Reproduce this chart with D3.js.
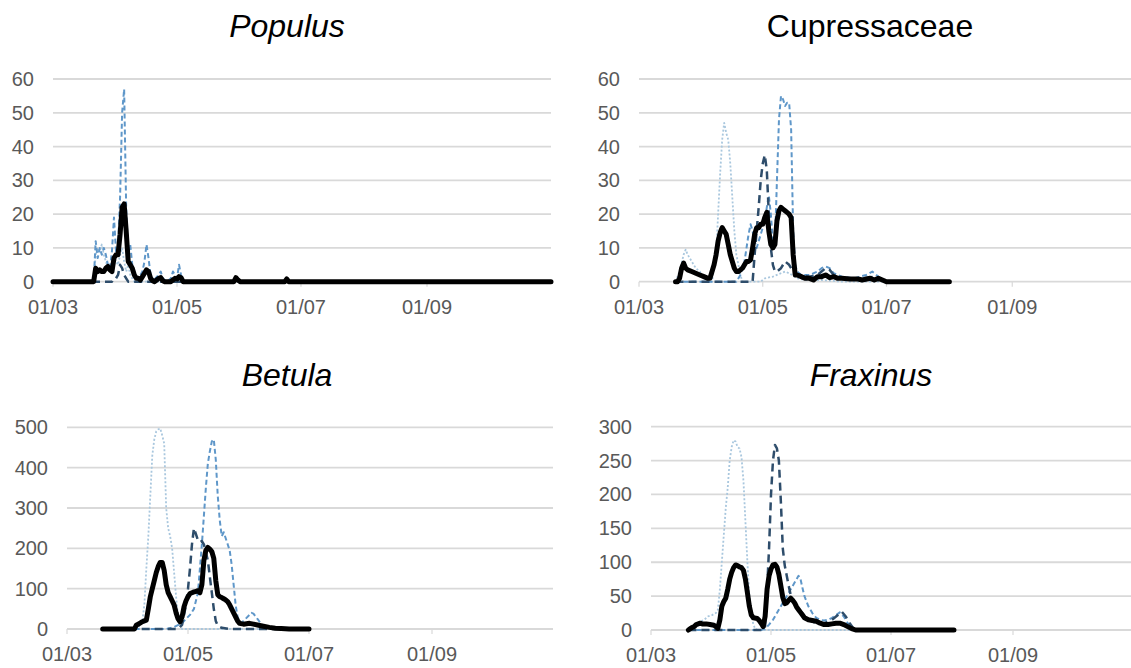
<!DOCTYPE html>
<html><head><meta charset="utf-8">
<script src="https://cdn.jsdelivr.net/npm/d3@7"></script>
<style>
html,body{margin:0;padding:0;background:#fff;}
svg{display:block;font-family:"Liberation Sans",Arial,sans-serif;}
</style></head>
<body>
<svg id="chart" width="1131" height="668"></svg>
<script>
// ---- DATA (day offset from 01/03, value) ----
const yearStart = new Date(2019, 2, 1);
const yearEnd = new Date(2019, 10, 1);
const xTickDates = [new Date(2019,2,1), new Date(2019,4,1), new Date(2019,6,1), new Date(2019,8,1)];

const populusTicks = [0,10,20,30,40,50,60];
const cupressTicks = [0,10,20,30,40,50,60];
const betulaTicks = [0,100,200,300,400,500];
const fraxinusTicks = [0,50,100,150,200,250,300];

const populusBlack = [[0,0],[20,0],[21,4],[22,3],[23,3.5],[24,3],[25,3],[26,4],[27,4.5],[28,3.5],[29,3],[30,7],[31,8],[32,8],[33,14],[34,22],[35,23],[36,15],[37,6],[38,5],[39,4],[40,2],[41,1],[42,1],[43,0.5],[44,1.5],[45,2.5],[46,3.5],[47,3],[48,1],[49,0.3],[50,0],[51,0.5],[52,1],[53,1.2],[54,0.3],[55,0],[58,0],[59,0.5],[60,1],[61,0.8],[62,1.5],[63,1.2],[64,0],[89,0],[90,1.2],[91,0.5],[92,0],[114,0],[115,0.8],[116,0],[245,0]];
const populusDark = [[0,0],[29,0],[30,1],[31,1],[32,2],[33,5],[34,4],[35,2],[36,1],[37,0],[245,0]];
const populusMid = [[0,0],[20,0],[21,12],[22,7],[23,10],[24,8],[25,10],[26,8],[27,5],[28,4],[29,9],[30,19],[31,9],[32,10],[33,25],[34,50],[35,57],[36,22],[37,8],[38,11],[39,5],[40,3],[41,1],[42,1],[43,2],[44,3],[45,6],[46,11],[47,7],[48,2],[49,0],[52,2],[53,3],[54,1],[56,0],[58,1],[59,3],[60,2],[61,1],[62,5],[63,2],[64,0],[245,0]];
const populusLight = [[0,0],[20,0],[21,8],[22,10],[23,9],[24,11],[25,8],[26,6],[27,4],[28,3],[29,5],[30,8],[31,6],[32,5],[33,8],[34,10],[35,6],[36,3],[37,5],[38,2],[39,1],[40,0],[245,0]];

const cupressBlack = [[18,0],[19,0],[20,1],[21,4],[22,5.5],[23,4],[24,3.5],[26,3],[28,2.5],[30,2],[32,1.5],[34,1],[35,1],[36,3],[37,5],[38,8],[39,12],[40,14.5],[41,16],[42,15],[43,14],[44,11],[45,8],[46,6],[47,4],[48,3],[49,3],[50,3.5],[51,4],[52,5],[53,6],[54,6],[55,6.5],[56,10],[57,14],[58,16],[59,16],[60,17],[61,17],[62,19],[63,20.5],[64,15],[65,11],[66,10],[67,11],[68,18],[69,21],[70,22],[71,21.5],[72,21],[73,20.5],[74,20],[75,19],[76,8],[77,2],[78,2],[80,1.5],[82,1],[84,1],[86,0.5],[88,1.5],[90,1.5],[92,2],[94,1.2],[96,1.5],[98,1],[100,1],[104,0.8],[108,0.8],[110,0.5],[114,1],[116,0.5],[118,1],[120,0.5],[122,0],[153,0]];
const cupressDark = [[18,0],[56,0],[57,8],[58,15],[59,22],[60,30],[61,35],[62,37.5],[63,33],[64,20],[65,10],[66,5],[67,3],[68,3],[70,4],[72,6],[74,5],[76,3],[78,2],[80,2],[84,1.5],[88,2],[90,3],[92,4],[94,3.5],[96,2],[100,1],[110,1],[116,1.5],[120,0.5],[122,0],[153,0]];
const cupressMid = [[18,0],[48,0],[50,2],[52,6],[54,14],[55,17],[56,15],[57,12],[58,10],[59,12],[60,14],[62,18],[63,22],[64,25.5],[65,20],[66,12],[67,11],[68,30],[69,48],[70,55],[71,54],[72,52],[73,53],[74,53],[75,45],[76,15],[77,5],[78,3],[80,2],[84,2],[88,3],[90,4],[92,4.5],[94,4],[96,2.5],[100,1.5],[106,1],[112,2],[115,3],[117,2],[120,0.5],[122,0],[153,0]];
const cupressLight = [[18,0],[20,3],[22,8],[23,9.5],[24,8],[26,6],[28,4],[30,3],[32,1],[34,0],[36,0],[38,8],[39,20],[40,32],[41,42],[42,47],[43,44],[44,42],[45,35],[46,25],[47,15],[48,8],[49,5],[50,2],[51,0],[60,0],[62,1],[66,1.5],[70,2.5],[72,3],[74,2.5],[78,1],[82,0.5],[90,0.5],[100,0],[153,0]];

const betulaBlack = [[18,0],[34,0],[35,10],[36,12],[37,15],[38,18],[39,20],[40,22],[41,50],[42,80],[43,100],[44,120],[45,140],[46,155],[47,165],[48,165],[49,145],[50,110],[51,90],[52,80],[53,70],[54,60],[55,40],[56,25],[57,18],[58,30],[59,55],[60,70],[61,80],[62,88],[63,90],[64,92],[65,93],[66,95],[67,90],[68,110],[69,170],[70,195],[71,202],[72,198],[73,192],[74,175],[75,120],[76,85],[77,80],[78,78],[79,75],[80,72],[81,68],[82,60],[83,50],[84,40],[85,30],[86,20],[87,14],[89,12],[92,14],[94,12],[96,10],[99,7],[102,4],[105,2],[108,1],[112,0],[122,0]];
const betulaDark = [[18,0],[56,0],[58,10],[60,60],[61,100],[62,150],[63,210],[64,250],[65,235],[66,220],[67,215],[68,218],[69,210],[70,190],[71,170],[72,130],[73,90],[74,50],[75,20],[76,8],[78,3],[82,0],[122,0]];
const betulaMid = [[18,0],[50,0],[54,5],[58,15],[60,25],[62,35],[64,50],[66,90],[67,150],[68,210],[69,280],[70,350],[71,410],[72,440],[73,465],[74,470],[75,420],[76,330],[77,270],[78,230],[79,240],[80,225],[81,210],[82,195],[83,160],[84,110],[85,60],[86,30],[87,18],[88,15],[90,25],[92,35],[93,40],[94,38],[96,25],[98,12],[100,5],[104,0],[122,0]];
const betulaLight = [[18,0],[34,0],[36,5],[38,20],[39,60],[40,150],[41,230],[42,330],[43,430],[44,470],[45,490],[46,495],[47,497],[48,480],[49,460],[50,300],[51,250],[52,230],[53,200],[54,140],[55,80],[56,30],[57,10],[58,0],[122,0]];

const fraxinusBlack = [[19,0],[20,2],[21,4],[22,5],[23,8],[24,9],[25,10],[26,9],[28,9],[30,8],[32,7],[33,5],[34,2.5],[35,15],[36,35],[37,42],[38,47],[39,60],[40,75],[41,85],[42,92],[43,96],[44,95],[45,93],[46,92],[47,88],[48,75],[49,55],[50,35],[51,22],[52,18],[54,17],[55,14],[56,10],[57,5],[58,20],[59,60],[60,80],[61,90],[62,96],[63,97],[64,93],[65,82],[66,65],[67,48],[68,39],[69,40],[70,44],[71,47],[72,44],[73,40],[74,34],[75,30],[76,26],[77,22],[78,18],[80,15],[82,14],[84,13],[86,10],[88,8],[90,8],[92,9],[94,10],[96,10],[98,8],[100,5],[102,2],[104,0],[154,0]];
const fraxinusDark = [[19,0],[57,0],[58,5],[59,60],[60,120],[61,200],[62,250],[63,273],[64,268],[65,250],[66,190],[67,120],[68,95],[69,80],[70,65],[71,52],[72,44],[74,35],[76,28],[78,20],[80,15],[84,10],[88,10],[92,15],[95,22],[97,27],[99,20],[101,10],[103,2],[104,0],[154,0]];
const fraxinusMid = [[19,0],[56,0],[58,2],[60,8],[62,15],[64,25],[66,35],[68,45],[70,55],[72,65],[74,75],[75,80],[76,75],[77,62],[78,50],[80,35],[82,25],[84,18],[86,15],[88,14],[90,15],[92,18],[94,22],[96,26],[98,20],[100,10],[102,3],[104,0],[154,0]];
const fraxinusLight = [[19,0],[21,3],[23,10],[25,12],[27,15],[29,20],[31,22],[33,25],[34,30],[35,60],[36,100],[37,140],[38,180],[39,210],[40,250],[41,270],[42,280],[43,278],[44,270],[45,268],[46,255],[47,220],[48,160],[49,100],[50,50],[51,25],[52,8],[53,2],[54,0],[154,0]];

// ---- STYLES ----
const styles = {
  light: {color:"#a9c7de", width:1.8, dash:"2,2"},
  mid:   {color:"#5f97c9", width:2.0, dash:"5,3"},
  dark:  {color:"#2e4d6b", width:2.5, dash:"8,5"},
  black: {color:"#000000", width:5, dash:null}
};

const panels = [
  {title:"Populus", italic:true, titleX:287, titleY:37, left:53, right:551, y0:281.7, yTop:79, ticks:populusTicks,
   series:{light:populusLight, mid:populusMid, dark:populusDark, black:populusBlack}},
  {title:"Cupressaceae", italic:false, titleX:870, titleY:37, left:639, right:1136, y0:281.7, yTop:79, ticks:cupressTicks,
   series:{light:cupressLight, mid:cupressMid, dark:cupressDark, black:cupressBlack}},
  {title:"Betula", italic:true, titleX:287, titleY:386, left:67, right:553, y0:629, yTop:427.3, ticks:betulaTicks,
   series:{light:betulaLight, mid:betulaMid, dark:betulaDark, black:betulaBlack}},
  {title:"Fraxinus", italic:true, titleX:871, titleY:386, left:651, right:1133, y0:630, yTop:426.7, ticks:fraxinusTicks,
   series:{light:fraxinusLight, mid:fraxinusMid, dark:fraxinusDark, black:fraxinusBlack}}
];

const svg = d3.select("#chart");
const fmt = d3.timeFormat("%d/%m");

panels.forEach(p => {
  const g = svg.append("g");
  const x = d3.scaleTime().domain([yearStart, yearEnd]).range([p.left, p.right]);
  const ymax = p.ticks[p.ticks.length-1];
  const y = d3.scaleLinear().domain([0, ymax]).range([p.y0, p.yTop]);

  // gridlines
  g.selectAll("line.grid").data(p.ticks).join("line")
    .attr("x1", p.left).attr("x2", p.right)
    .attr("y1", d => y(d)).attr("y2", d => y(d))
    .attr("stroke", "#d9d9d9").attr("stroke-width", 1.8);

  // y labels
  g.selectAll("text.ylab").data(p.ticks).join("text")
    .attr("x", p.left - 19).attr("y", d => y(d)).attr("dy", "0.35em")
    .attr("text-anchor", "end").attr("font-size", 20).attr("fill", "#595959")
    .text(d => d);

  // x ticks
  g.selectAll("line.xt").data(xTickDates).join("line")
    .attr("x1", d => x(d)).attr("x2", d => x(d))
    .attr("y1", p.y0).attr("y2", p.y0 + 5)
    .attr("stroke", "#d9d9d9").attr("stroke-width", 1.2);
  g.selectAll("text.xlab").data(xTickDates).join("text")
    .attr("x", d => x(d)).attr("y", p.y0 + 32)
    .attr("text-anchor", "middle").attr("font-size", 20).attr("fill", "#595959")
    .text(d => fmt(d));

  // lines
  const line = d3.line()
    .x(d => x(d3.timeDay.offset(yearStart, d[0])))
    .y(d => y(d[1]));
  ["light","mid","dark","black"].forEach(k => {
    const s = styles[k];
    g.append("path").datum(p.series[k])
      .attr("d", line).attr("fill", "none")
      .attr("stroke", s.color).attr("stroke-width", s.width)
      .attr("stroke-dasharray", s.dash)
      .attr("stroke-linejoin", "round").attr("stroke-linecap", k === "black" ? "round" : "butt");
  });

  // title
  svg.append("text").attr("x", p.titleX).attr("y", p.titleY)
    .attr("text-anchor", "middle").attr("font-size", 32)
    .attr("font-style", p.italic ? "italic" : "normal").attr("fill", "#000")
    .text(p.title);
});
</script>
</body></html>
